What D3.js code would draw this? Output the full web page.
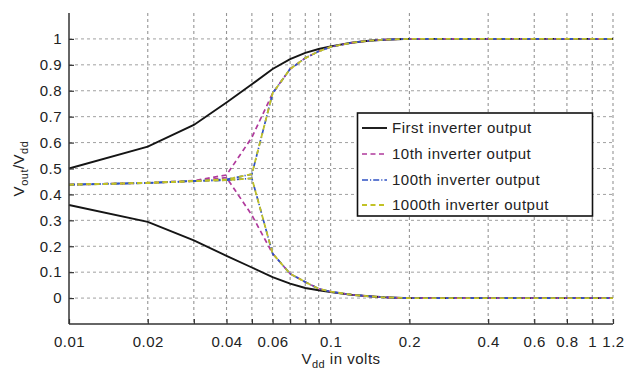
<!DOCTYPE html>
<html><head><meta charset="utf-8">
<script src="https://cdn.jsdelivr.net/npm/d3@7"></script>
<style>
html,body{margin:0;padding:0;background:#fff;}
text{font-family:"Liberation Sans",Arial,Helvetica,sans-serif;fill:#222;}
</style></head><body>
<svg id="chart" width="629" height="371"></svg>
<script>
const vdd = [0.01,0.02,0.03,0.04,0.05,0.06,0.07,0.08,0.09,0.1,0.12,0.14,0.16,0.18,0.2,0.3,0.4,0.5,0.6,0.7,0.8,0.9,1.0,1.1,1.2];
const firstHigh  = [0.500,0.584,0.668,0.755,0.825,0.884,0.922,0.946,0.961,0.971,0.985,0.993,0.997,0.999,1,1,1,1,1,1,1,1,1,1,1];
const firstLow   = [0.359,0.294,0.223,0.163,0.118,0.081,0.056,0.039,0.030,0.023,0.013,0.007,0.003,0.001,0,0,0,0,0,0,0,0,0,0,0];
const tenthHigh  = [0.438,0.445,0.453,0.475,0.620,0.790,0.884,0.926,0.952,0.969,0.985,0.993,0.997,0.999,1,1,1,1,1,1,1,1,1,1,1];
const tenthLow   = [0.437,0.444,0.451,0.465,0.320,0.172,0.094,0.062,0.036,0.025,0.013,0.007,0.003,0.001,0,0,0,0,0,0,0,0,0,0,0];
const hundHigh   = [0.438,0.445,0.452,0.458,0.478,0.790,0.884,0.926,0.952,0.969,0.985,0.993,0.997,0.999,1,1,1,1,1,1,1,1,1,1,1];
const hundLow    = [0.437,0.444,0.451,0.455,0.462,0.172,0.094,0.062,0.036,0.025,0.013,0.007,0.003,0.001,0,0,0,0,0,0,0,0,0,0,0];
const thouHigh   = [0.438,0.445,0.452,0.458,0.478,0.790,0.884,0.926,0.952,0.969,0.985,0.993,0.997,0.999,1,1,1,1,1,1,1,1,1,1,1];
const thouLow    = [0.437,0.444,0.451,0.455,0.462,0.172,0.094,0.062,0.036,0.025,0.013,0.007,0.003,0.001,0,0,0,0,0,0,0,0,0,0,0];
const xTicks = [0.01,0.02,0.03,0.04,0.05,0.06,0.07,0.08,0.09,0.1,0.2,0.4,0.6,0.8,1,1.2];
const xTickLabels = ["0.01","0.02","","0.04","","0.06","","","","0.1","0.2","0.4","0.6","0.8","1","1.2"];
const yTicks = [0,0.1,0.2,0.3,0.4,0.5,0.6,0.7,0.8,0.9,1];
const yTickLabels = ["0","0.1","0.2","0.3","0.4","0.5","0.6","0.7","0.8","0.9","1"];
const seriesNames = ["First inverter output","10th inverter output","100th inverter output","1000th inverter output"];

const styles = [
  {color:"#151515", dash:null, w:1.9},
  {color:"#b03a9c", dash:"5,3.5", w:1.7},
  {color:"#2f52c4", dash:"6,2,1.2,2", w:1.7},
  {color:"#c2c226", dash:"5,3.5", w:1.8}
];
const series = [[firstHigh,firstLow],[tenthHigh,tenthLow],[hundHigh,hundLow],[thouHigh,thouLow]];

const svg = d3.select("#chart");
const L=69, R=613, T=13, B=324;
const x = d3.scaleLog().domain([0.01,1.2]).range([L,R]);
const y = d3.scaleLinear().domain([-0.1,1.1]).range([B,T]);
const FS = 15, LS = "0.5px";

// grid
const grid = svg.append("g");
grid.selectAll("line.v").data(xTicks.slice(1)).enter().append("line")
  .attr("x1",d=>x(d)).attr("x2",d=>x(d)).attr("y1",T).attr("y2",B)
  .attr("stroke","#959595").attr("stroke-width",1.1).attr("stroke-dasharray","3,3");
grid.selectAll("line.h").data(yTicks).enter().append("line")
  .attr("x1",L).attr("x2",R).attr("y1",d=>y(d)).attr("y2",d=>y(d))
  .attr("stroke","#a0a0a0").attr("stroke-width",1).attr("stroke-dasharray","3,3");

// lines
const line = d3.line().x(d=>x(d[0])).y(d=>y(d[1]));
series.forEach((pair,i)=>{
  pair.forEach(vals=>{
    svg.append("path").datum(vdd.map((v,j)=>[v,vals[j]]))
      .attr("d",line).attr("fill","none")
      .attr("stroke",styles[i].color).attr("stroke-width",styles[i].w)
      .attr("stroke-dasharray",styles[i].dash);
  });
});

// axes
const xAxis = d3.axisBottom(x).tickValues(xTicks).tickSize(-5).tickPadding(12)
  .tickFormat((d,i)=>xTickLabels[i]);
const gx = svg.append("g").attr("transform",`translate(0,${B})`).call(xAxis);
const yAxis = d3.axisLeft(y).tickValues(yTicks).tickSize(-5).tickPadding(7)
  .tickFormat((d,i)=>yTickLabels[i]);
const gy = svg.append("g").attr("transform",`translate(${L},0)`).call(yAxis);
[gx,gy].forEach(g=>{
  g.select(".domain").attr("stroke","#333").attr("stroke-width",1.5);
  g.selectAll(".tick line").attr("stroke","#333").attr("stroke-width",1.2);
  g.selectAll(".tick text").attr("font-size",FS).attr("letter-spacing",LS)
    .attr("fill","#222").attr("font-family","'Liberation Sans',Arial,sans-serif");
});
gx.select(".domain").attr("d",`M${L},0H${R}`);
gy.select(".domain").attr("d",`M0,${B}V${T}`);

// axis labels
svg.append("text").attr("x",(L+R)/2).attr("y",364).attr("text-anchor","middle")
  .attr("font-size",FS).attr("letter-spacing",LS)
  .html('V<tspan font-size="11" dy="4">dd</tspan><tspan dy="-4"> in volts</tspan>');
svg.append("text").attr("transform",`translate(24,${(T+B)/2}) rotate(-90)`).attr("text-anchor","middle")
  .attr("font-size",FS).attr("letter-spacing",LS)
  .html('V<tspan font-size="11" dy="4">out</tspan><tspan dy="-4">/V</tspan><tspan font-size="11" dy="4">dd</tspan>');

// legend
const lg = svg.append("g");
lg.append("rect").attr("x",357.5).attr("y",113).attr("width",235).attr("height",103)
  .attr("fill","#fff").attr("stroke","#111").attr("stroke-width",1.6);
const rowsY = [128,154,180,205];
seriesNames.forEach((name,i)=>{
  lg.append("line").attr("x1",362).attr("x2",387).attr("y1",rowsY[i]).attr("y2",rowsY[i])
    .attr("stroke",styles[i].color).attr("stroke-width",styles[i].w).attr("stroke-dasharray",styles[i].dash);
  lg.append("text").attr("x",392).attr("y",rowsY[i]).attr("dy","0.36em")
    .attr("font-size",FS).attr("letter-spacing",LS).text(name);
});
</script>
</body></html>
